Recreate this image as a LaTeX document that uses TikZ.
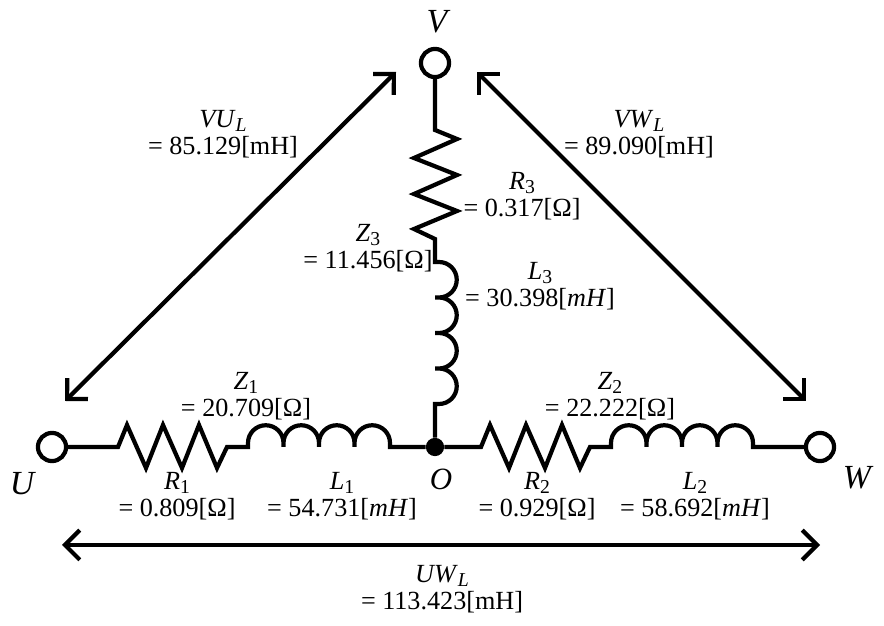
\documentclass[tikz,border=0pt]{standalone}
\usepackage{fontspec}
\setmainfont{Liberation Serif}
\usetikzlibrary{arrows.meta}
\newcommand{\Resistor}[1]{%
  -- ++([rotate=#1]9,22) -- ++([rotate=#1]19,-43) -- ++([rotate=#1]17,43)
  -- ++([rotate=#1]19,-43) -- ++([rotate=#1]17,43) -- ++([rotate=#1]18,-43)
  -- ++([rotate=#1]10,21)
}
\newcommand{\Hump}[1]{%
  -- ++([rotate=#1]0,4) arc[start angle=180+#1, end angle=#1, radius=17.75]
  -- ++([rotate=#1]0,-4)
}
\newcommand{\Coil}[1]{\Hump{#1} \Hump{#1} \Hump{#1} \Hump{#1}}
\newcommand{\Sym}[2]{\textit{#1}\raisebox{-0.35ex}{\fontsize{14}{14}\selectfont #2}}
\tikzset{
  wire/.style={line width=3pt, line join=miter},
  terminal/.style={circle, draw, line width=3pt, fill=white, inner sep=0pt, minimum size=20pt},
  junction/.style={circle, fill=black, inner sep=0pt, minimum size=13pt},
  span/.style={line width=3pt, {Straight Barb[length=10.5pt, width=21pt]}-{Straight Barb[length=10.5pt, width=21pt]}},
  value/.style={align=center, inner sep=0pt, yshift=-1pt, font=\fontsize{18.6}{19.2}\selectfont},
  letter/.style={inner sep=0pt, font=\fontsize{24}{24}\selectfont\itshape},
}

\begin{document}
\begin{tikzpicture}[x=0.025cm, y=0.025cm]
    \useasboundingbox (0,0) rectangle (884,626);

    \node (U) [terminal] at (52,179) {};
    \node (V) [terminal] at (435,563) {};
    \node (W) [terminal] at (820,179) {};
    \node (O) [junction] at (435,179) {};

    \coordinate (r1) at (118,179);
    \coordinate (l1) at (248,179);
    \coordinate (r2) at (481,179);
    \coordinate (l2) at (611,179);
    \coordinate (r3) at (435,496);
    \coordinate (l3) at (435,364);

    \draw[wire] (U) -- (r1) \Resistor{0} -- (l1) \Coil{0} -- (O);
    \draw[wire] (O) -- (r2) \Resistor{0} -- (l2) \Coil{0} -- (W);
    \draw[wire] (V) -- (r3) \Resistor{-90} -- (l3) \Coil{-90} -- (O);

    \coordinate (vu a) at (65,225);
    \coordinate (vu b) at (396,554);
    \coordinate (vw a) at (477,554);
    \coordinate (vw b) at (806,225);
    \coordinate (uw a) at (62,81);
    \coordinate (uw b) at (820,81);

    \draw[span] (vu a) -- (vu b);
    \draw[span] (vw a) -- (vw b);
    \draw[span] (uw a) -- (uw b);

    \node (U label) [letter] at (22,142) {U};
    \node (V label) [letter] at (437,604) {V};
    \node (W label) [letter] at (857,148) {W};
    \node (O label) [letter, font=\fontsize{22}{22}\selectfont\itshape] at (441,147) {O};

    \node (Z1) [value] at (246,231) {\Sym{Z}{1}\\= 20.709[Ω]};
    \node (R1) [value] at (177,131) {\Sym{R}{1}\\= 0.809[Ω]};
    \node (L1) [value] at (342,131) {\Sym{L}{1}\\= 54.731[\textit{mH}]};
    \node (Z2) [value] at (610,231) {\Sym{Z}{2}\\= 22.222[Ω]};
    \node (R2) [value] at (537,131) {\Sym{R}{2}\\= 0.929[Ω]};
    \node (L2) [value] at (695,131) {\Sym{L}{2}\\= 58.692[\textit{mH}]};
    \node (Z3) [value] at (368,379) {\Sym{Z}{3}\\= 11.456[Ω]};
    \node (R3) [value] at (522,431) {\Sym{R}{3}\\= 0.317[Ω]};
    \node (L3) [value] at (540,341) {\Sym{L}{3}\\= 30.398[\textit{mH}]};
    \node (VUL) [value] at (223,493) {\Sym{VU}{\textit{L}}\\= 85.129[mH]};
    \node (VWL) [value] at (639,493) {\Sym{VW}{\textit{L}}\\= 89.090[mH]};
    \node (UWL) [value] at (442,38) {\Sym{UW}{\textit{L}}\\= 113.423[mH]};
\end{tikzpicture}
\end{document}
